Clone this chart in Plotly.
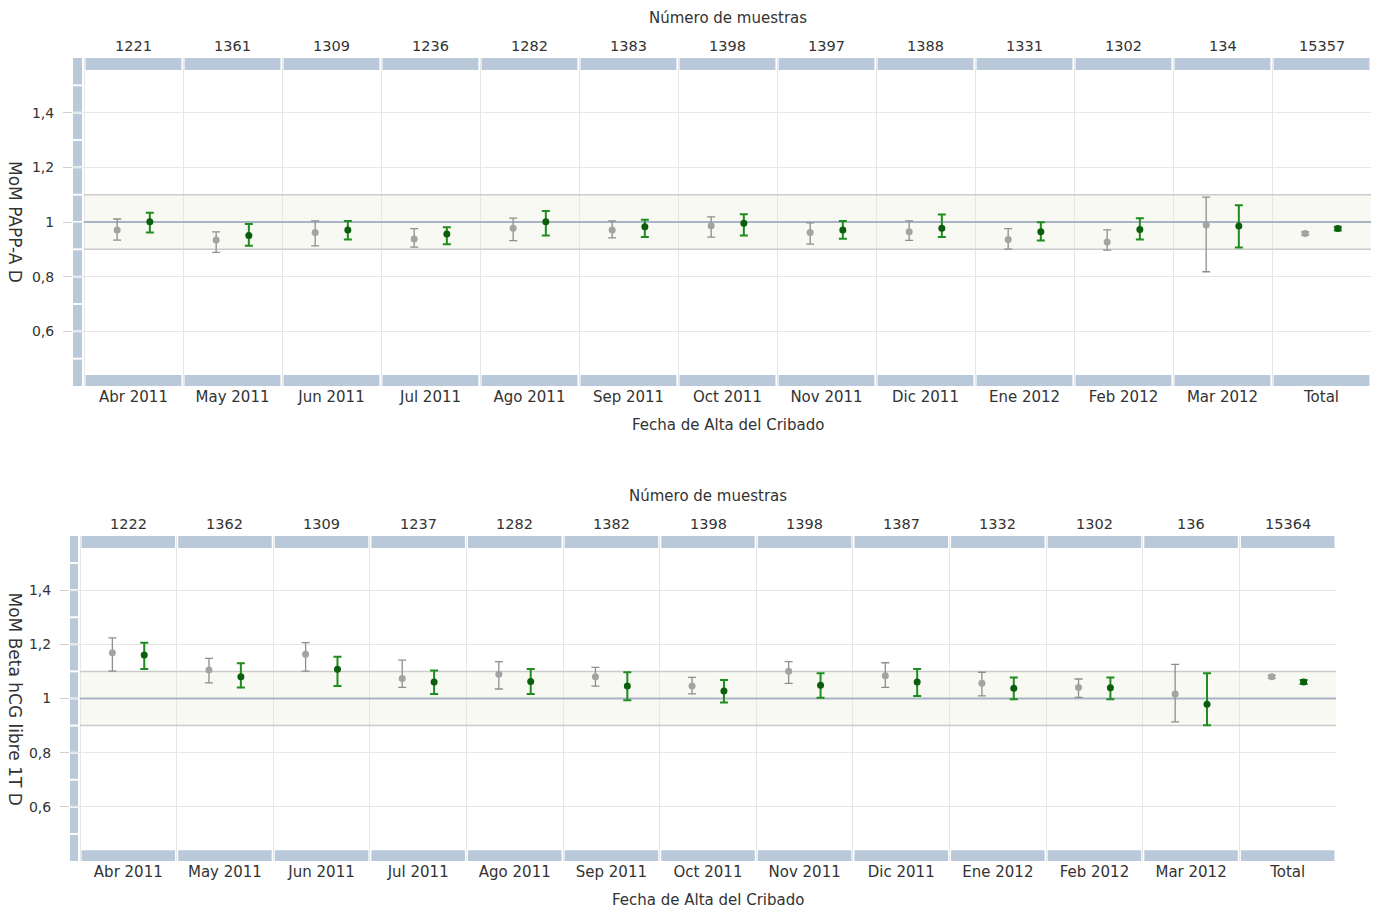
import plotly.graph_objects as go

# ---- data ---------------------------------------------------------------
months = ["Abr 2011", "May 2011", "Jun 2011", "Jul 2011", "Ago 2011", "Sep 2011",
          "Oct 2011", "Nov 2011", "Dic 2011", "Ene 2012", "Feb 2012", "Mar 2012", "Total"]

papp_counts = ["1221", "1361", "1309", "1236", "1282", "1383", "1398", "1397",
               "1388", "1331", "1302", "134", "15357"]
hcg_counts = ["1222", "1362", "1309", "1237", "1282", "1382", "1398", "1398",
              "1387", "1332", "1302", "136", "15364"]

# MoM PAPP-A D: grey series (median, upper, lower) and green series
papp_grey_mid = [0.971, 0.934, 0.962, 0.938, 0.977, 0.971, 0.986, 0.962, 0.964, 0.936, 0.927, 0.989, 0.958]
papp_grey_hi = [1.011, 0.964, 1.004, 0.976, 1.014, 1.004, 1.019, 0.997, 1.004, 0.976, 0.971, 1.091, 0.964]
papp_grey_lo = [0.934, 0.889, 0.913, 0.908, 0.932, 0.942, 0.945, 0.919, 0.933, 0.901, 0.897, 0.818, 0.952]
papp_green_mid = [1.001, 0.951, 0.971, 0.956, 1.001, 0.983, 0.995, 0.971, 0.977, 0.964, 0.973, 0.985, 0.976]
papp_green_hi = [1.034, 0.993, 1.004, 0.981, 1.040, 1.008, 1.028, 1.004, 1.027, 0.999, 1.014, 1.061, 0.983]
papp_green_lo = [0.962, 0.913, 0.936, 0.919, 0.951, 0.945, 0.951, 0.939, 0.945, 0.932, 0.936, 0.907, 0.969]

# MoM Beta hCG libre 1T D
hcg_grey_mid = [1.169, 1.105, 1.163, 1.074, 1.090, 1.080, 1.046, 1.101, 1.084, 1.056, 1.041, 1.017, 1.080]
hcg_grey_hi = [1.224, 1.148, 1.206, 1.142, 1.136, 1.115, 1.078, 1.136, 1.132, 1.097, 1.072, 1.126, 1.086]
hcg_grey_lo = [1.101, 1.058, 1.101, 1.041, 1.035, 1.046, 1.017, 1.056, 1.041, 1.010, 1.004, 0.914, 1.074]
hcg_green_mid = [1.161, 1.080, 1.108, 1.061, 1.063, 1.046, 1.028, 1.049, 1.061, 1.038, 1.040, 0.979, 1.061]
hcg_green_hi = [1.206, 1.130, 1.154, 1.103, 1.109, 1.097, 1.068, 1.093, 1.109, 1.078, 1.078, 1.093, 1.068]
hcg_green_lo = [1.109, 1.041, 1.046, 1.017, 1.017, 0.994, 0.985, 1.003, 1.009, 0.997, 0.997, 0.901, 1.054]

y_ticks = [0.6, 0.8, 1.0, 1.2, 1.4]

# ---- styling ------------------------------------------------------------
W, H = 1375, 909
FONT = "DejaVu Sans"
TXT = "#333333"
BAND = "#b9c9da"
GRID = "#e6e6e6"
GREY_DOT = "#a3a3a3"
GREY_BAR = "#8e8e8e"
GREEN_DOT = "#0b5e0b"
GREEN_BAR = "#1f8c1f"
OFFSET = 0.165

fig = go.Figure()

panels = [
    dict(ax="", px=(73, 1371), py=(58, 386), band_w=11, col_w=99.0,
         title="MoM PAPP-A D", counts=papp_counts,
         grey=(papp_grey_mid, papp_grey_hi, papp_grey_lo),
         green=(papp_green_mid, papp_green_hi, papp_green_lo)),
    dict(ax="2", px=(70, 1336), py=(536, 861), band_w=10, col_w=96.6,
         title="MoM Beta hCG libre 1T D", counts=hcg_counts,
         grey=(hcg_grey_mid, hcg_grey_hi, hcg_grey_lo),
         green=(hcg_green_mid, hcg_green_hi, hcg_green_lo)),
]

shapes = []
annotations = []
n = len(months)


def label(x, y, text, xref="paper", angle=0, size=15):
    return dict(x=x, y=y, xref=xref, yref="paper", text=text, showarrow=False,
                xanchor="center", yanchor="middle", textangle=angle,
                font=dict(family=FONT, size=size, color=TXT))


for p in panels:
    ax = p["ax"]
    xref, yref = "x" + ax, "y" + ax
    x0 = -0.5 - p["band_w"] / p["col_w"]
    ymin, ymax = 0.4, 1.6

    for (mid, hi, lo), off, dot, bar, thick in [
        (p["grey"], -OFFSET, GREY_DOT, GREY_BAR, 1.3),
        (p["green"], OFFSET, GREEN_DOT, GREEN_BAR, 2.0),
    ]:
        fig.add_trace(go.Scatter(
            x=[i + off for i in range(n)], y=mid, mode="markers",
            xaxis=xref, yaxis=yref, showlegend=False, hoverinfo="skip",
            marker=dict(size=7, color=dot, line=dict(width=0)),
            error_y=dict(type="data", symmetric=False,
                         array=[h - m for h, m in zip(hi, mid)],
                         arrayminus=[m - l for m, l in zip(mid, lo)],
                         color=bar, thickness=thick, width=4),
        ))

    # reference band 0.9 - 1.1 and lines
    shapes.append(dict(type="rect", xref=xref, yref=yref, x0=-0.5, x1=12.5, y0=0.9, y1=1.1,
                       fillcolor="#f8f9f2", line=dict(width=0), layer="below"))
    for yv, col, w in [(0.9, "#cbcbcb", 1.5), (1.1, "#cbcbcb", 1.5), (1.0, "#a9b3c6", 2.2)]:
        shapes.append(dict(type="line", xref=xref, yref=yref, x0=-0.5, x1=12.5, y0=yv, y1=yv,
                           line=dict(color=col, width=w), layer="between"))

    # segmented frame bars along top, bottom and left
    gx = 0.016
    for i in range(n):
        shapes.append(dict(type="rect", xref=xref, yref=yref, x0=i - 0.5 + gx, x1=i + 0.5 - gx,
                           y0=1.556, y1=ymax, fillcolor=BAND, line=dict(width=0), layer="above"))
        shapes.append(dict(type="rect", xref=xref, yref=yref, x0=i - 0.5 + gx, x1=i + 0.5 - gx,
                           y0=ymin, y1=0.44, fillcolor=BAND, line=dict(width=0), layer="above"))
    gy = 0.0035
    edges = [0.4 + 0.1 * k for k in range(13)]
    for k in range(12):
        a = edges[k] + (gy if k > 0 else 0)
        b = edges[k + 1] - (gy if k < 11 else 0)
        shapes.append(dict(type="rect", xref=xref, yref=yref, x0=x0, x1=-0.5 - 0.02,
                           y0=a, y1=b, fillcolor=BAND, line=dict(width=0), layer="above"))

    # sample counts above each column
    top_px = p["py"][0]
    for i, c in enumerate(p["counts"]):
        annotations.append(label(i, 1 - (top_px - 12) / H, c, xref=xref, size=14.5))

    cx = (p["px"][0] + p["band_w"] + p["px"][1]) / 2 / W
    annotations.append(label(cx, 1 - (top_px - 40) / H, "Número de muestras"))
    annotations.append(label(cx, 1 - (p["py"][1] + 39) / H, "Fecha de Alta del Cribado"))
    ymid = (p["py"][0] + p["py"][1]) / 2
    annotations.append(label(15 / W, 1 - ymid / H, p["title"], angle=90, size=17))

    xdom = [p["px"][0] / W, p["px"][1] / W]
    ydom = [1 - p["py"][1] / H, 1 - p["py"][0] / H]
    fig.update_layout(**{
        "xaxis" + ax: dict(domain=xdom, range=[x0, 12.5], anchor=yref,
                           tickmode="array", tickvals=list(range(n)), ticktext=months,
                           showgrid=False, zeroline=False, showline=False, ticks="",
                           tickfont=dict(family=FONT, size=15, color=TXT),
                           minor=dict(tick0=0.5, dtick=1, showgrid=True, gridcolor=GRID,
                                      gridwidth=1, ticks=""),
                           fixedrange=True),
        "yaxis" + ax: dict(domain=ydom, range=[ymin, ymax], anchor=xref,
                           tickmode="array", tickvals=y_ticks,
                           showgrid=True, gridcolor=GRID, gridwidth=1,
                           zeroline=False, showline=False,
                           ticks="outside", ticklen=9, tickcolor="#d0d0d0", tickwidth=1,
                           ticklabelstandoff=6,
                           tickfont=dict(family=FONT, size=14, color=TXT),
                           fixedrange=True),
    })

fig.update_layout(
    width=W, height=H,
    margin=dict(l=0, r=0, t=0, b=0),
    paper_bgcolor="white", plot_bgcolor="white",
    separators=",.",
    shapes=shapes, annotations=annotations,
    showlegend=False,
)

fig.write_html("out.html")
